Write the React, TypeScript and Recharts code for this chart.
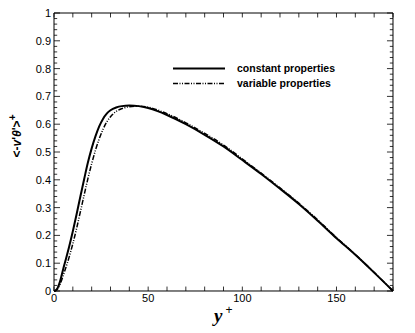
import React from 'react';
import { LineChart, Line, XAxis, YAxis, Legend, ReferenceLine } from 'recharts';

const yPlus = [0, 1, 2, 3, 4, 5, 6, 7, 8, 9, 10, 12, 14, 16, 18, 20, 22, 24, 26, 28, 30, 33, 36, 40, 45, 50, 55, 60, 70, 80, 90, 100, 110, 120, 130, 140, 150, 160, 170, 180];
const constantProps = [0, 0.003, 0.012, 0.03, 0.055, 0.082, 0.107, 0.132, 0.158, 0.186, 0.215, 0.276, 0.34, 0.402, 0.462, 0.513, 0.556, 0.592, 0.619, 0.638, 0.65, 0.66, 0.665, 0.667, 0.665, 0.658, 0.647, 0.633, 0.6, 0.562, 0.52, 0.471, 0.421, 0.368, 0.313, 0.253, 0.19, 0.13, 0.066, 0];
const variableProps = [0, 0.002, 0.008, 0.02, 0.038, 0.058, 0.078, 0.099, 0.121, 0.145, 0.17, 0.225, 0.285, 0.345, 0.404, 0.458, 0.506, 0.547, 0.581, 0.608, 0.627, 0.646, 0.656, 0.663, 0.665, 0.661, 0.651, 0.638, 0.605, 0.567, 0.525, 0.475, 0.424, 0.371, 0.316, 0.256, 0.192, 0.131, 0.067, 0];

const xTicks = [0, 10, 20, 30, 40, 50, 60, 70, 80, 90, 100, 110, 120, 130, 140, 150, 160, 170, 180];
const xLabelTicks = [0, 50, 100, 150];
const yMajorTicks = [0, 0.1, 0.2, 0.3, 0.4, 0.5, 0.6, 0.7, 0.8, 0.9, 1];
const yMinorTicks = [0.02, 0.04, 0.06, 0.08, 0.12, 0.14, 0.16, 0.18, 0.22, 0.24, 0.26, 0.28, 0.32, 0.34, 0.36, 0.38, 0.42, 0.44, 0.46, 0.48, 0.52, 0.54, 0.56, 0.58, 0.62, 0.64, 0.66, 0.68, 0.72, 0.74, 0.76, 0.78, 0.82, 0.84, 0.86, 0.88, 0.92, 0.94, 0.96, 0.98];

const data = yPlus.map((x, i) => ({ x, c: constantProps[i], v: variableProps[i] }));

const FONT = '"Liberation Sans", Arial, Helvetica, sans-serif';
const DASH = '5 1.5 1 1.5 1 1.5';
const Z = 0.001;
const X_MAX = 180;
const Y_MAX = 1;
// tick lengths in data units (inward ticks)
const X_TICK_LEN = 0.016;
const Y_MAJOR_LEN = 3.2;
const Y_MINOR_LEN = 1.7;
const TICK_STROKE = '#333';

const LegendContent = () => (
  <div style={{ fontFamily: FONT, fontWeight: 'bold', fontSize: 10.5, color: '#000', lineHeight: '15px' }}>
    <div style={{ display: 'flex', alignItems: 'center' }}>
      <svg width={54} height={15}><line x1={0} y1={7.5} x2={52} y2={7.5} stroke="#000" strokeWidth={2} /></svg>
      <span style={{ marginLeft: 10 }}>constant properties</span>
    </div>
    <div style={{ display: 'flex', alignItems: 'center' }}>
      <svg width={54} height={15}><line x1={0} y1={7.5} x2={52} y2={7.5} stroke="#000" strokeWidth={1.6} strokeDasharray={DASH} /></svg>
      <span style={{ marginLeft: 10 }}>variable properties</span>
    </div>
  </div>
);

const YTitle = () => (
  <text transform="translate(21,136) rotate(-90)" textAnchor="middle" fontFamily={FONT} fontWeight="bold" fontSize={12} fill="#000">
    {'<-'}<tspan fontStyle="italic">v</tspan>{"'"}<tspan fontStyle="italic">θ</tspan>{"'>"}<tspan dy={-5} fontSize={10}>+</tspan>
  </text>
);

const XTitle = () => (
  <text x={214} y={322} fontFamily='"Liberation Serif", "DejaVu Serif", serif' fontWeight="bold" fontStyle="italic" fontSize={19} fill="#000">
    y<tspan dx={3} dy={-8} fontFamily={FONT} fontStyle="normal" fontWeight="normal" fontSize={12}>+</tspan>
  </text>
);

const seg = (key: string, a: { x: number; y: number }, b: { x: number; y: number }) => (
  <ReferenceLine key={key} xAxisId="b" yAxisId="l" segment={[a, b]} stroke={TICK_STROKE} strokeWidth={1} ifOverflow="visible" />
);

export default function App() {
  const tickSegs: React.ReactNode[] = [];
  xTicks.forEach((t) => {
    tickSegs.push(seg(`xb${t}`, { x: t, y: 0 }, { x: t, y: X_TICK_LEN }));
    tickSegs.push(seg(`xt${t}`, { x: t, y: Y_MAX }, { x: t, y: Y_MAX - X_TICK_LEN }));
  });
  yMajorTicks.forEach((t) => {
    tickSegs.push(seg(`yl${t}`, { x: 0, y: t }, { x: Y_MAJOR_LEN, y: t }));
    tickSegs.push(seg(`yr${t}`, { x: X_MAX, y: t }, { x: X_MAX - Y_MAJOR_LEN, y: t }));
  });
  yMinorTicks.forEach((t) => {
    tickSegs.push(seg(`ylm${t}`, { x: 0, y: t }, { x: Y_MINOR_LEN, y: t }));
    tickSegs.push(seg(`yrm${t}`, { x: X_MAX, y: t }, { x: X_MAX - Y_MINOR_LEN, y: t }));
  });

  return (
    <div style={{ position: 'absolute', left: 0, top: 0, width: 415, height: 333, background: '#fff' }}>
      <LineChart width={415} height={333} data={data} margin={{ top: 13, right: 22, bottom: 42, left: 54 }} style={{ fontFamily: FONT }}>
        <XAxis xAxisId="b" dataKey="x" type="number" domain={[0, X_MAX]} ticks={xLabelTicks} orientation="bottom" height={Z}
          tickSize={-6} tickMargin={9} stroke="#000" tickLine={false} tick={{ fill: '#000', fontSize: 11 }} interval={0}
          label={{ content: () => <XTitle /> }} />
        <XAxis xAxisId="t" dataKey="x" type="number" domain={[0, X_MAX]} ticks={xTicks} orientation="top" height={Z}
          tickLine={false} tick={false} stroke="#000" interval={0} />
        <YAxis yAxisId="l" type="number" domain={[0, Y_MAX]} ticks={yMajorTicks} width={Z} tickSize={-6} tickMargin={9}
          stroke="#000" tickLine={false} tick={{ fill: '#000', fontSize: 11 }} interval={0}
          tickFormatter={(v: number) => String(Number(v.toFixed(1)))} label={{ content: () => <YTitle /> }} />
        <YAxis yAxisId="r" type="number" domain={[0, Y_MAX]} ticks={yMajorTicks} width={Z} orientation="right"
          tickLine={false} tick={false} stroke="#000" interval={0} />
        <Legend content={<LegendContent />} layout="vertical" align="center" verticalAlign="middle"
          wrapperStyle={{ position: 'absolute', left: 173, top: 61, width: 200 }} />
        {tickSegs}
        <Line xAxisId="b" yAxisId="l" dataKey="c" name="constant properties" type="monotone" stroke="#000" strokeWidth={2}
          dot={false} isAnimationActive={false} />
        <Line xAxisId="b" yAxisId="l" dataKey="v" name="variable properties" type="monotone" stroke="#000" strokeWidth={1.5}
          strokeDasharray={DASH} dot={false} isAnimationActive={false} />
      </LineChart>
    </div>
  );
}
